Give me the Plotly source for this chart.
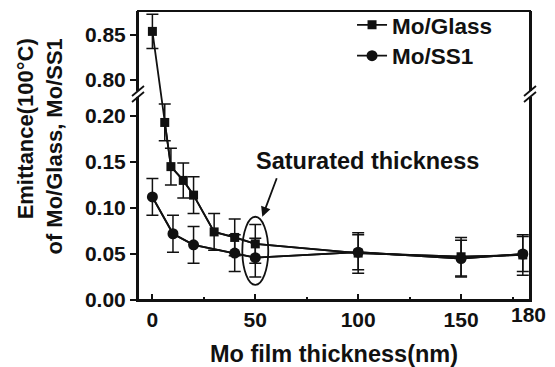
import plotly.graph_objects as go

# ---------------- data ----------------
thickness_glass = [0, 6, 9, 15, 20, 30, 40, 50, 100, 150, 180]
emit_glass = [0.854, 0.193, 0.145, 0.130, 0.114, 0.074, 0.068, 0.061, 0.051, 0.047, 0.049]
err_glass = [0.019, 0.020, 0.020, 0.019, 0.020, 0.020, 0.020, 0.021, 0.022, 0.021, 0.022]

thickness_ss1 = [0, 10, 20, 40, 50, 100, 150, 180]
emit_ss1 = [0.112, 0.072, 0.060, 0.051, 0.046, 0.052, 0.045, 0.050]
err_ss1 = [0.020, 0.020, 0.020, 0.020, 0.021, 0.019, 0.020, 0.019]

series_names = ["Mo/Glass", "Mo/SS1"]
x_tick_vals = [0, 50, 100, 150]
x_last_label = 180
x_minor_vals = [25, 75, 125, 175]
lower_tick_vals = [0.00, 0.05, 0.10, 0.15, 0.20]
upper_tick_vals = [0.80, 0.85]

# ---------------- broken y-axis geometry ----------------
LOW_RANGE = [0.0, 0.224]
UP_RANGE = [0.7844, 0.8767]
BREAK = 0.713
LOW_DOM = [0.0, BREAK]
UP_DOM = [BREAK, 1.0]
SPLIT = 0.5  # values above this live on the upper segment


def to_paper(v):
    r, d = (UP_RANGE, UP_DOM) if v > SPLIT else (LOW_RANGE, LOW_DOM)
    return d[0] + (v - r[0]) / (r[1] - r[0]) * (d[1] - d[0])


def from_paper(p, r, d):
    return r[0] + (p - d[0]) / (d[1] - d[0]) * (r[1] - r[0])


FONT = "Liberation Sans, Arial, sans-serif"
BLACK = "#111111"

fig = go.Figure()

series = [
    (series_names[0], thickness_glass, emit_glass, err_glass, "square", 9, "legend"),
    (series_names[1], thickness_ss1, emit_ss1, err_ss1, "circle", 11, "legend2"),
]

for name, xs, ys, es, sym, msize, leg in series:
    # connecting lines, drawn on each segment (clipped by the subplot)
    for yax, r, d in (("y", LOW_RANGE, LOW_DOM), ("y2", UP_RANGE, UP_DOM)):
        fig.add_trace(go.Scatter(
            x=xs, y=[from_paper(to_paper(v), r, d) for v in ys],
            yaxis=yax, mode="lines", line=dict(color=BLACK, width=1.8),
            showlegend=False, hoverinfo="skip"))
    lo = [i for i, v in enumerate(ys) if v <= SPLIT]
    up = [i for i, v in enumerate(ys) if v > SPLIT]
    fig.add_trace(go.Scatter(
        x=[xs[i] for i in lo], y=[ys[i] for i in lo], yaxis="y",
        name=name, mode="lines+markers", legend=leg,
        line=dict(color=BLACK, width=1.8),
        marker=dict(symbol=sym, size=msize, color=BLACK),
        error_y=dict(type="data", array=[es[i] for i in lo],
                     color=BLACK, thickness=1.5, width=6)))
    if up:
        fig.add_trace(go.Scatter(
            x=[xs[i] for i in up], y=[ys[i] for i in up], yaxis="y2",
            mode="markers", showlegend=False,
            marker=dict(symbol=sym, size=msize, color=BLACK),
            error_y=dict(type="data", array=[es[i] for i in up],
                         color=BLACK, thickness=1.5, width=6)))

axis_common = dict(showline=True, linewidth=2, linecolor=BLACK, showgrid=False,
                   zeroline=False, tickcolor=BLACK, tickwidth=2, automargin=False,
                   tickfont=dict(size=21, color=BLACK, family=FONT, weight="bold"))

legend_common = dict(xanchor="left", yanchor="middle", bgcolor="rgba(0,0,0,0)",
                     font=dict(size=22.5, family=FONT, color=BLACK, weight="bold"),
                     itemwidth=30)

fig.update_layout(
    width=555, height=367,
    margin=dict(l=138, r=25, t=11, b=67, autoexpand=False),
    paper_bgcolor="white", plot_bgcolor="white",
    font=dict(family=FONT, color=BLACK, weight="bold"),
    xaxis=dict(**axis_common, range=[-7, 183.5], domain=[0, 1], anchor="y",
               ticks="inside", ticklen=6, tickvals=x_tick_vals, ticklabelstandoff=0,
               minor=dict(tickvals=x_minor_vals, ticks="inside", ticklen=3,
                          tickwidth=1.5, tickcolor=BLACK),
               title=dict(text="Mo film thickness(nm)", standoff=27,
                          font=dict(size=23.5, family=FONT, color=BLACK, weight="bold"))),
    yaxis=dict(**axis_common, domain=LOW_DOM, range=LOW_RANGE, anchor="x",
               mirror=True, ticks="outside", ticklen=6,
               tickvals=lower_tick_vals, tickformat=".2f"),
    yaxis2=dict(**axis_common, domain=UP_DOM, range=UP_RANGE, anchor="x",
                mirror=True, ticks="outside", ticklen=6,
                tickvals=upper_tick_vals, tickformat=".2f"),
    legend=dict(**legend_common, x=0.546, y=0.951),
    legend2=dict(**legend_common, x=0.546, y=0.844),
    showlegend=True,
)

# frame around the plotting area
fig.add_shape(type="rect", xref="paper", yref="paper", x0=0, x1=1, y0=0, y1=1,
              line=dict(color=BLACK, width=2), fillcolor="rgba(0,0,0,0)", layer="above")

# axis-break marks on left and right spines
for xa in (0, 1):
    fig.add_shape(type="rect", xref="paper", yref="paper",
                  xsizemode="pixel", ysizemode="pixel", xanchor=xa, yanchor=BREAK,
                  x0=-3, x1=3, y0=-3, y1=3, fillcolor="white",
                  line=dict(width=0), layer="above")
    for dy in (-3, 3):
        fig.add_shape(type="line", xref="paper", yref="paper",
                      xsizemode="pixel", ysizemode="pixel", xanchor=xa, yanchor=BREAK,
                      x0=-6, x1=6, y0=dy - 5, y1=dy + 5,
                      line=dict(color=BLACK, width=1.8), layer="above")

# ellipse around the 50 nm points
i_g = thickness_glass.index(50)
i_s = thickness_ss1.index(50)
ecx = 50
ecy = (emit_glass[i_g] + emit_ss1[i_s]) / 2
fig.add_shape(type="circle", xref="x", yref="y",
              x0=ecx - 6.3, x1=ecx + 6.3, y0=ecy - 0.037, y1=ecy + 0.037,
              line=dict(color=BLACK, width=1.8))

# annotations
fig.add_annotation(text="Saturated thickness", x=104.6, y=0.151, xref="x", yref="y",
                   showarrow=False, font=dict(size=23.5, family=FONT, color=BLACK, weight="bold"))
fig.add_annotation(text="", x=53.4, y=ecy + 0.037, xref="x", yref="y",
                   ax=15, ay=-40, showarrow=True, arrowhead=2, arrowsize=1.1,
                   arrowwidth=1.8, arrowcolor=BLACK)
fig.add_annotation(text=str(x_last_label), x=x_last_label, xref="x", yref="paper", y=0,
                   yanchor="top", yshift=-1, xshift=6, showarrow=False,
                   font=dict(size=21, family=FONT, color=BLACK, weight="bold"))
fig.add_annotation(text="Emittance(100°C)<br>of Mo/Glass, Mo/SS1", textangle=-90,
                   align="right",
                   x=-0.25, y=0.531, xref="paper", yref="paper",
                   xanchor="center", yanchor="middle", showarrow=False,
                   font=dict(size=22, family=FONT, color=BLACK, weight="bold"))

fig.write_html("out.html", config={"displayModeBar": False},
               post_script="document.body.style.margin='0';document.body.style.padding='0';")
